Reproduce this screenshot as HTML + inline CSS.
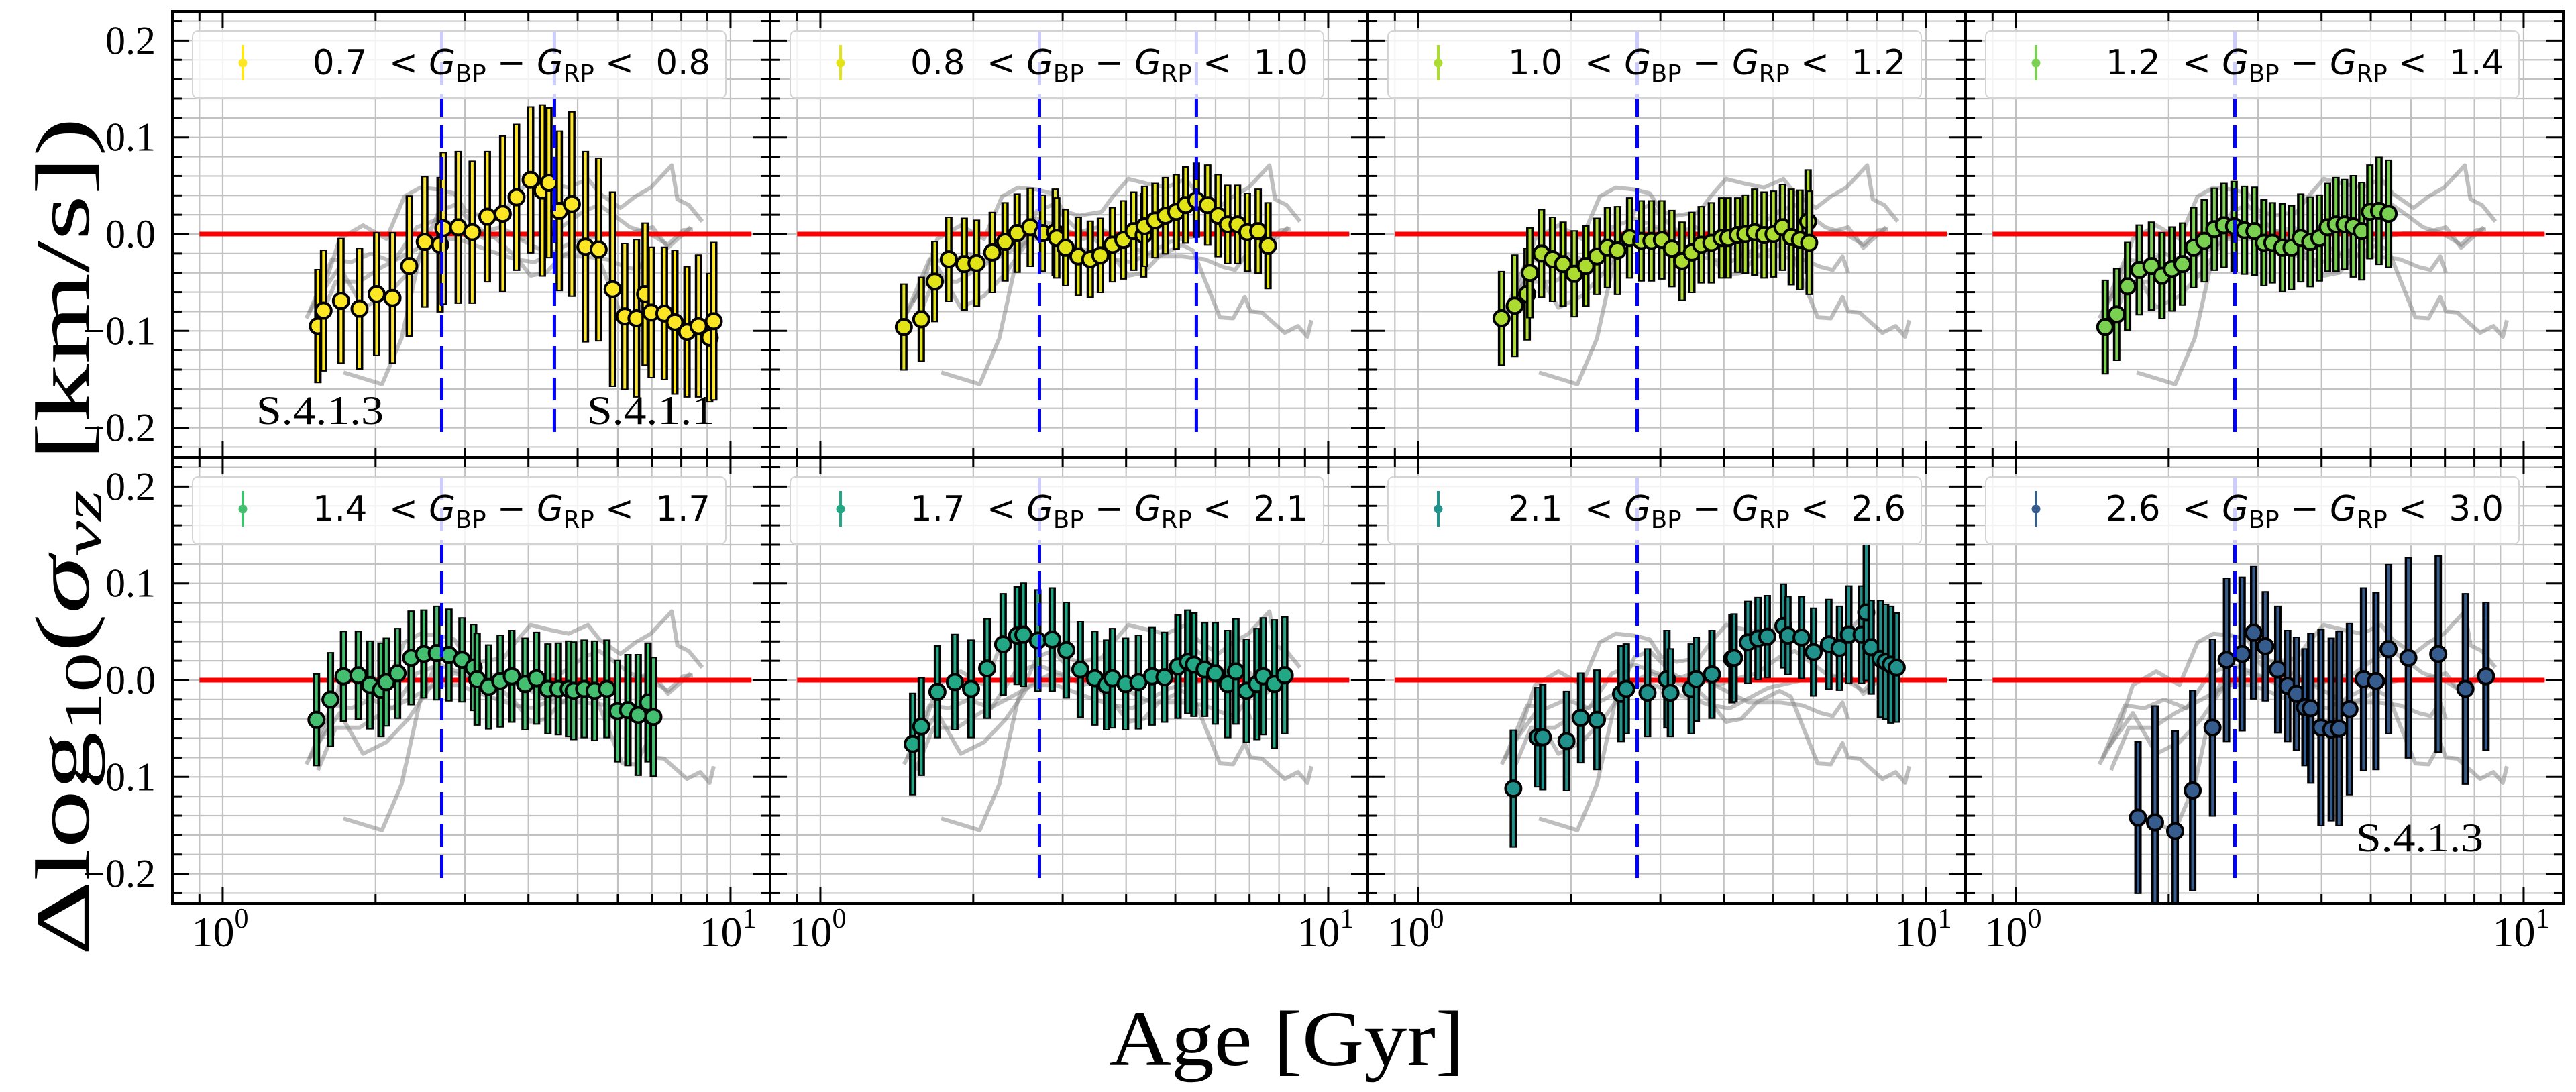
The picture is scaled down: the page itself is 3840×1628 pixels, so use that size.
<!DOCTYPE html>
<html><head><meta charset="utf-8">
<style>
html,body{margin:0;padding:0;background:#fff;}
svg{display:block;}
</style></head>
<body>
<svg id="fig" xmlns="http://www.w3.org/2000/svg" width="3840" height="1628" viewBox="0 0 3840 1628">
<rect width="3840" height="1628" fill="#fff"/>
<g id="panels"></g>
<text x="1918" y="1588" text-anchor="middle" font-family="Liberation Serif, serif" font-size="118" textLength="529" lengthAdjust="spacingAndGlyphs">Age [Gyr]</text>
<text transform="translate(132,800) rotate(-90)" text-anchor="middle" font-family="Liberation Serif, serif" font-size="115" textLength="1250" lengthAdjust="spacingAndGlyphs">Δlog<tspan font-size="78" dy="18">10</tspan><tspan dy="-18">(</tspan><tspan font-style="italic">σ</tspan><tspan font-size="78" dy="18" font-style="italic">vz</tspan><tspan dy="-18"> [km/s])</tspan></text>
</svg>
<script>
// ---- data ----
const binLow = ["0.7","0.8","1.0","1.2","1.4","1.7","2.1","2.6"];
const binHigh = ["0.8","1.0","1.2","1.4","1.7","2.1","2.6","3.0"];
const binColors = ["#fde725","#e2e418","#addc30","#7ad151","#44bf70","#22a884","#21918c","#365c8d"];
const yTickLabels = ["0.2","0.1","0.0","\u22120.1","\u22120.2"];
const yTickValues = [0.2,0.1,0.0,-0.1,-0.2];
const xTickLabels = ["0","1"];
const vlineAges = [[2.70,4.50],[2.70,5.50],[2.70],[2.70],[2.70],[2.70],[2.70],[2.70]];

const ages0 = [1.54,1.58,1.71,1.86,2.01,2.16,2.33,2.50,2.68,2.72,2.91,3.10,3.32,3.56,3.79,4.04,4.26,4.39,4.60,4.87,5.18,5.50,5.86,6.19,6.53,6.79,6.98,7.41,7.77,8.21,8.65,9.10,9.27];
const vals0 = [-0.095,-0.079,-0.069,-0.077,-0.062,-0.066,-0.033,-0.008,-0.011,0.006,0.007,0.002,0.018,0.021,0.038,0.056,0.045,0.053,0.024,0.031,-0.013,-0.016,-0.057,-0.085,-0.087,-0.062,-0.081,-0.082,-0.091,-0.101,-0.095,-0.107,-0.090];
const errs0 = [0.059,0.063,0.065,0.063,0.064,0.068,0.073,0.068,0.070,0.079,0.079,0.074,0.068,0.081,0.076,0.076,0.089,0.078,0.083,0.096,0.099,0.095,0.101,0.076,0.082,0.074,0.068,0.069,0.075,0.068,0.074,0.067,0.082];

const ages1 = [1.46,1.58,1.68,1.79,1.92,2.03,2.18,2.31,2.44,2.59,2.74,2.90,2.92,3.04,3.22,3.40,3.56,3.76,3.95,4.14,4.33,4.35,4.56,4.78,5.02,5.24,5.50,5.79,6.07,6.34,6.63,6.93,7.28,7.61];
const vals1 = [-0.096,-0.088,-0.049,-0.026,-0.031,-0.030,-0.019,-0.008,0.001,0.007,0.001,0.002,-0.004,-0.014,-0.023,-0.026,-0.022,-0.011,-0.006,0.003,-0.001,0.008,0.014,0.019,0.023,0.030,0.035,0.030,0.019,0.010,0.010,0.002,0.003,-0.012];
const errs1 = [0.045,0.044,0.042,0.044,0.048,0.045,0.042,0.041,0.041,0.041,0.040,0.045,0.042,0.040,0.041,0.040,0.039,0.039,0.041,0.041,0.044,0.042,0.039,0.040,0.039,0.040,0.039,0.042,0.043,0.041,0.041,0.041,0.044,0.045];

const ages2 = [1.46,1.55,1.64,1.66,1.75,1.84,1.93,2.03,2.14,2.25,2.36,2.47,2.61,2.75,2.88,3.02,3.16,3.31,3.46,3.61,3.78,3.96,4.08,4.26,4.41,4.60,4.80,5.01,5.22,5.43,5.65,5.86,5.89];
const vals2 = [-0.087,-0.074,-0.062,-0.040,-0.020,-0.026,-0.031,-0.041,-0.033,-0.023,-0.014,-0.017,-0.004,-0.007,-0.007,-0.006,-0.015,-0.028,-0.019,-0.011,-0.009,-0.004,-0.004,-0.001,0.000,0.002,-0.001,0.000,0.007,-0.003,-0.006,0.013,-0.009];
const errs2 = [0.049,0.053,0.048,0.047,0.046,0.044,0.044,0.045,0.042,0.040,0.042,0.046,0.042,0.042,0.042,0.041,0.040,0.041,0.042,0.040,0.042,0.042,0.042,0.039,0.041,0.045,0.045,0.045,0.045,0.050,0.052,0.054,0.054];

const ages3 = [1.50,1.58,1.66,1.75,1.85,1.94,2.03,2.13,2.24,2.35,2.46,2.57,2.69,2.82,2.95,3.08,3.20,3.35,3.49,3.64,3.80,3.96,4.11,4.27,4.44,4.62,4.80,4.98,5.19,5.42];
const vals3 = [-0.096,-0.083,-0.054,-0.037,-0.033,-0.043,-0.036,-0.031,-0.014,-0.007,0.005,0.009,0.008,0.004,0.003,-0.009,-0.009,-0.014,-0.014,-0.004,-0.008,-0.004,0.007,0.010,0.010,0.008,0.003,0.023,0.024,0.021];
const errs3 = [0.049,0.048,0.046,0.047,0.046,0.045,0.044,0.043,0.042,0.043,0.043,0.044,0.047,0.046,0.046,0.045,0.042,0.046,0.044,0.046,0.047,0.045,0.046,0.049,0.047,0.053,0.051,0.049,0.056,0.056];

const ages4 = [1.53,1.63,1.73,1.85,1.95,2.05,2.10,2.21,2.35,2.49,2.64,2.79,2.96,3.12,3.17,3.34,3.52,3.71,3.94,4.15,4.37,4.58,4.80,4.91,5.15,5.40,5.71,5.99,6.28,6.58,6.88,7.05];
const vals4 = [-0.041,-0.020,0.004,0.005,-0.005,-0.010,-0.002,0.007,0.023,0.027,0.028,0.026,0.021,0.013,0.001,-0.007,-0.001,0.004,-0.004,0.002,-0.009,-0.009,-0.009,-0.011,-0.009,-0.011,-0.009,-0.032,-0.031,-0.036,-0.023,-0.038];
const errs4 = [0.048,0.049,0.047,0.046,0.046,0.049,0.046,0.047,0.049,0.046,0.049,0.048,0.044,0.045,0.048,0.044,0.048,0.048,0.048,0.048,0.047,0.048,0.050,0.051,0.051,0.052,0.051,0.053,0.058,0.063,0.062,0.062];

const ages5 = [1.52,1.58,1.70,1.84,1.98,2.13,2.29,2.44,2.51,2.68,2.86,3.05,3.25,3.47,3.66,3.76,3.99,4.23,4.50,4.76,5.06,5.29,5.44,5.71,5.99,6.34,6.58,6.90,7.24,7.45,7.83,8.21];
const vals5 = [-0.066,-0.048,-0.012,-0.002,-0.009,0.012,0.037,0.046,0.047,0.041,0.042,0.031,0.011,0.002,-0.005,0.002,-0.004,-0.002,0.004,0.003,0.014,0.019,0.016,0.011,0.007,-0.004,0.009,-0.011,-0.004,0.004,-0.004,0.005];
const errs5 = [0.053,0.051,0.048,0.050,0.051,0.052,0.053,0.051,0.054,0.053,0.054,0.050,0.050,0.049,0.047,0.052,0.048,0.049,0.051,0.047,0.054,0.054,0.054,0.049,0.053,0.056,0.055,0.054,0.058,0.061,0.067,0.061];

const ages6 = [1.54,1.72,1.76,1.96,2.09,2.25,2.51,2.57,2.83,3.09,3.14,3.45,3.53,3.79,4.15,4.19,4.46,4.67,4.87,5.24,5.35,5.69,6.01,6.44,6.76,7.05,7.47,7.63,7.80,8.14,8.33,8.53,8.76];
const vals6 = [-0.112,-0.059,-0.059,-0.063,-0.039,-0.041,-0.014,-0.009,-0.013,0.001,-0.013,-0.009,0.001,0.006,0.022,0.023,0.039,0.043,0.045,0.056,0.046,0.044,0.029,0.037,0.033,0.047,0.047,0.070,0.034,0.022,0.019,0.016,0.013];
const errs6 = [0.061,0.052,0.055,0.052,0.047,0.052,0.050,0.047,0.046,0.051,0.046,0.047,0.044,0.046,0.046,0.046,0.043,0.043,0.043,0.044,0.041,0.043,0.046,0.047,0.044,0.051,0.051,0.071,0.049,0.061,0.060,0.061,0.057];

const ages7 = [1.74,1.88,2.06,2.23,2.44,2.60,2.79,2.94,3.10,3.28,3.43,3.57,3.71,3.81,3.99,4.18,4.33,4.54,4.84,5.12,5.42,5.93,6.79,7.68,8.43];
const vals7 = [-0.142,-0.147,-0.156,-0.114,-0.049,0.021,0.027,0.049,0.035,0.011,-0.006,-0.014,-0.028,-0.029,-0.049,-0.051,-0.050,-0.030,0.001,-0.001,0.032,0.023,0.027,-0.009,0.004];
const errs7 = [0.079,0.121,0.104,0.104,0.092,0.085,0.080,0.069,0.057,0.066,0.058,0.059,0.061,0.078,0.102,0.095,0.101,0.089,0.095,0.092,0.088,0.104,0.102,0.099,0.077];

const allAges = [ages0,ages1,ages2,ages3,ages4,ages5,ages6,ages7];
const allVals = [vals0,vals1,vals2,vals3,vals4,vals5,vals6,vals7];
const allErrs = [errs0,errs1,errs2,errs3,errs4,errs5,errs6,errs7];

// grey reference curves (same in every panel)
const greyAgesA = [1.46,1.59,1.70,1.89,2.10,2.28,2.45,2.67,2.86,3.01,3.23,3.58,3.77,4.04,4.41,4.80,5.24,5.52,6.07,6.50,6.97,7.66,7.86,8.28,8.80];
const greyValsA = [-0.087,-0.052,-0.005,0.009,-0.005,0.039,0.048,0.046,0.042,0.024,0.019,0.023,0.039,0.057,0.052,0.048,0.057,0.042,0.027,0.039,0.048,0.071,0.036,0.030,0.013];
const greyAgesB = [1.73,2.06,2.25,2.45,2.67,2.86,3.17,3.46,3.77,4.04,4.33,4.64,5.15,5.42,6.12,6.50,6.85,7.03,7.40,8.21,8.72,9.10,9.27];
const greyValsB = [-0.143,-0.155,-0.108,-0.020,0.024,0.030,0.007,-0.005,-0.023,-0.043,-0.040,-0.023,-0.011,-0.017,-0.086,-0.087,-0.065,-0.080,-0.081,-0.102,-0.095,-0.106,-0.089];
const greyAgesC = [1.52,1.70,1.89,2.10,2.32,2.58,2.86,3.17,3.52,3.90,4.19,4.64,5.15,5.52,5.91,6.34,6.91,7.53,8.07,8.43];
const greyValsC = [-0.070,-0.034,-0.076,-0.064,-0.040,-0.005,0.007,0.001,0.007,-0.005,0.001,0.007,0.024,0.030,0.019,0.007,0.001,-0.011,0.004,0.005];
const greyAgesD = [1.48,1.64,1.79,1.96,2.17,2.41,2.67,2.96,3.29,3.65,4.04,4.48,5.15,5.71,6.22,6.56,6.85,7.03];
const greyValsD = [-0.081,-0.026,-0.029,-0.020,-0.029,0.007,0.016,0.007,-0.005,0.001,-0.011,-0.023,-0.023,-0.026,-0.034,-0.037,-0.023,-0.040];
const greyAgesE = [1.54,1.67,1.86,2.06,2.32,2.62,2.91,3.34,3.77,4.11,4.89,5.81,6.34,7.03,7.53,8.35];
const greyValsE = [-0.093,-0.049,-0.049,-0.034,-0.020,-0.005,-0.005,-0.017,-0.026,-0.029,-0.008,0.001,0.001,0.007,-0.014,0.007];
const greyAges = [greyAgesA,greyAgesB,greyAgesC,greyAgesD,greyAgesE];
const greyVals = [greyValsA,greyValsB,greyValsC,greyValsD,greyValsE];

// ---- layout ----
const NS = "http://www.w3.org/2000/svg";
const PW = 891, PH = 665, X0 = 257, Y0 = 17;
const LOGMIN = -0.099, DEC = 757;
function mk(tag, attrs, parent){ const e=document.createElementNS(NS,tag); for(const k in attrs) e.setAttribute(k,attrs[k]); parent.appendChild(e); return e; }
const root = document.getElementById('panels');

for(let p=0;p<8;p++){
  const col=p%4,row=Math.floor(p/4);
  const L=X0+col*PW, T=Y0+row*PH;
  const xs=a=>L+(Math.log10(a)-LOGMIN)*DEC;
  const ys=v=>T+332-v*1443;
  const g=mk('g',{},root);
  
  
  const clipId='clip'+p;
  const cp=mk('clipPath',{id:clipId},g); mk('rect',{x:L,y:T,width:PW,height:PH},cp);
  const inner=mk('g',{'clip-path':'url(#'+clipId+')'},g);
  // grid
  const grid=mk('g',{stroke:'#c2c2c2','stroke-width':2.2},inner);
  
  
  for(let k=-11;k<=11;k++){ const y=ys(k*0.02); mk('line',{x1:L,x2:L+PW,y1:y,y2:y},grid); }
  const gx=[0.9,1,2,3,4,5,6,7,8,9,10];
  gx.forEach(a=>{ const x=xs(a); mk('line',{x1:x,x2:x,y1:T,y2:T+PH},grid); });
  // grey curves
  for(let c=0;c<greyAges.length;c++){
    const pts=greyAges[c].map((a,i)=>xs(a).toFixed(1)+','+ys(greyVals[c][i]).toFixed(1)).join(' ');
    const pl=mk('polyline',{points:pts,fill:'none',stroke:'#808080','stroke-opacity':0.5,'stroke-width':6,'stroke-linejoin':'round'},inner);
    
    
  }
  // red zero line
  const rl=mk('line',{x1:xs(0.9),x2:xs(11),y1:ys(0),y2:ys(0),stroke:'#ff0000','stroke-width':7},inner);
  
  
  // error bars & points
  const A=allAges[p],V=allVals[p],E=allErrs[p],col_=binColors[p];
  for(let i=0;i<A.length;i++){
    const x=xs(A[i]),y=ys(V[i]),y1=ys(V[i]+E[i]),y2=ys(V[i]-E[i]);
    const pg=mk('g',{},inner);
    
    
    mk('line',{x1:x,x2:x,y1:y1,y2:y2,stroke:'#000','stroke-width':11},pg);
    mk('line',{x1:x,x2:x,y1:y1+2,y2:y2-2,stroke:col_,'stroke-width':4},pg);
    mk('circle',{cx:x,cy:y,r:11.5,fill:col_,stroke:'#000','stroke-width':4},pg);
  }
  // blue dashed lines
  vlineAges[p].forEach(a=>{
    const bl=mk('line',{x1:xs(a),x2:xs(a),y1:ys(0.21),y2:ys(-0.21),stroke:'#0000ff','stroke-width':5,'stroke-dasharray':'34 13'},inner);
    
    
  });
  // legend
  const lg=mk('g',{},g);
  
  
  mk('rect',{x:L+30,y:T+29,width:795,height:100,rx:8,fill:'#fff','fill-opacity':0.8,stroke:'#d4d4d4','stroke-width':2},lg);
  mk('line',{x1:L+105,x2:L+105,y1:T+50,y2:T+103,stroke:col_,'stroke-width':4},lg);
  mk('circle',{cx:L+105,cy:T+77,r:6.5,fill:col_},lg);
  const t=mk('text',{x:L+209,y:T+94,'font-family':'DejaVu Sans, Liberation Sans, sans-serif','font-size':52,textLength:593,lengthAdjust:'spacingAndGlyphs'},lg);
  
  
  t.innerHTML=binLow[p]+'\u00a0 &lt; <tspan font-style="italic">G</tspan><tspan font-size="36" dy="11">BP</tspan><tspan dy="-11"> \u2212 </tspan><tspan font-style="italic">G</tspan><tspan font-size="36" dy="11">RP</tspan><tspan dy="-11"> &lt;\u00a0 '+binHigh[p]+'</tspan>';
  // frame
  const fr=mk('rect',{x:L,y:T,width:PW,height:PH,fill:'none',stroke:'#000','stroke-width':4},g);
  
  
  // ticks
  const tk=mk('g',{stroke:'#000','stroke-width':3},g);
  
  
  for(let k=-11;k<=11;k++){
    const y=ys(k*0.02); const len=(k%5===0)?25:14;
    mk('line',{x1:L,x2:L+len,y1:y,y2:y},tk); mk('line',{x1:L+PW-len,x2:L+PW,y1:y,y2:y},tk);
  }
  gx.forEach(a=>{ const x=xs(a); const len=(a===1||a===10)?25:14;
    mk('line',{x1:x,x2:x,y1:T,y2:T+len},tk); mk('line',{x1:x,x2:x,y1:T+PH-len,y2:T+PH},tk); });
  // y tick labels
  if(col===0){
    yTickValues.forEach((v,i)=>{
      const tl=mk('text',{x:232,y:ys(v)+20,'text-anchor':'end','font-family':'Liberation Serif, serif','font-size':60},g);
      
      
      tl.textContent=yTickLabels[i];
    });
  }
  // x tick labels
  if(row===1){
    [1,10].forEach((a,i)=>{
      const tl=mk('text',{x:xs(a)-4,y:1411,'text-anchor':'middle','font-family':'Liberation Serif, serif','font-size':64},g);
      
      
      tl.innerHTML='10<tspan font-size="42" dy="-28">'+xTickLabels[i]+'</tspan>';
    });
  }
}
// annotations
const notes=[["S.4.1.3",382,632],["S.4.1.1",875,632],["S.4.1.3",3512,1269]];
notes.forEach(n=>{
  const t=mk('text',{x:n[1],y:n[2],'font-family':'Liberation Serif, serif','font-size':60,textLength:190,lengthAdjust:'spacingAndGlyphs'},root);
  
  
  t.textContent=n[0];
});
</script>
</body></html>
